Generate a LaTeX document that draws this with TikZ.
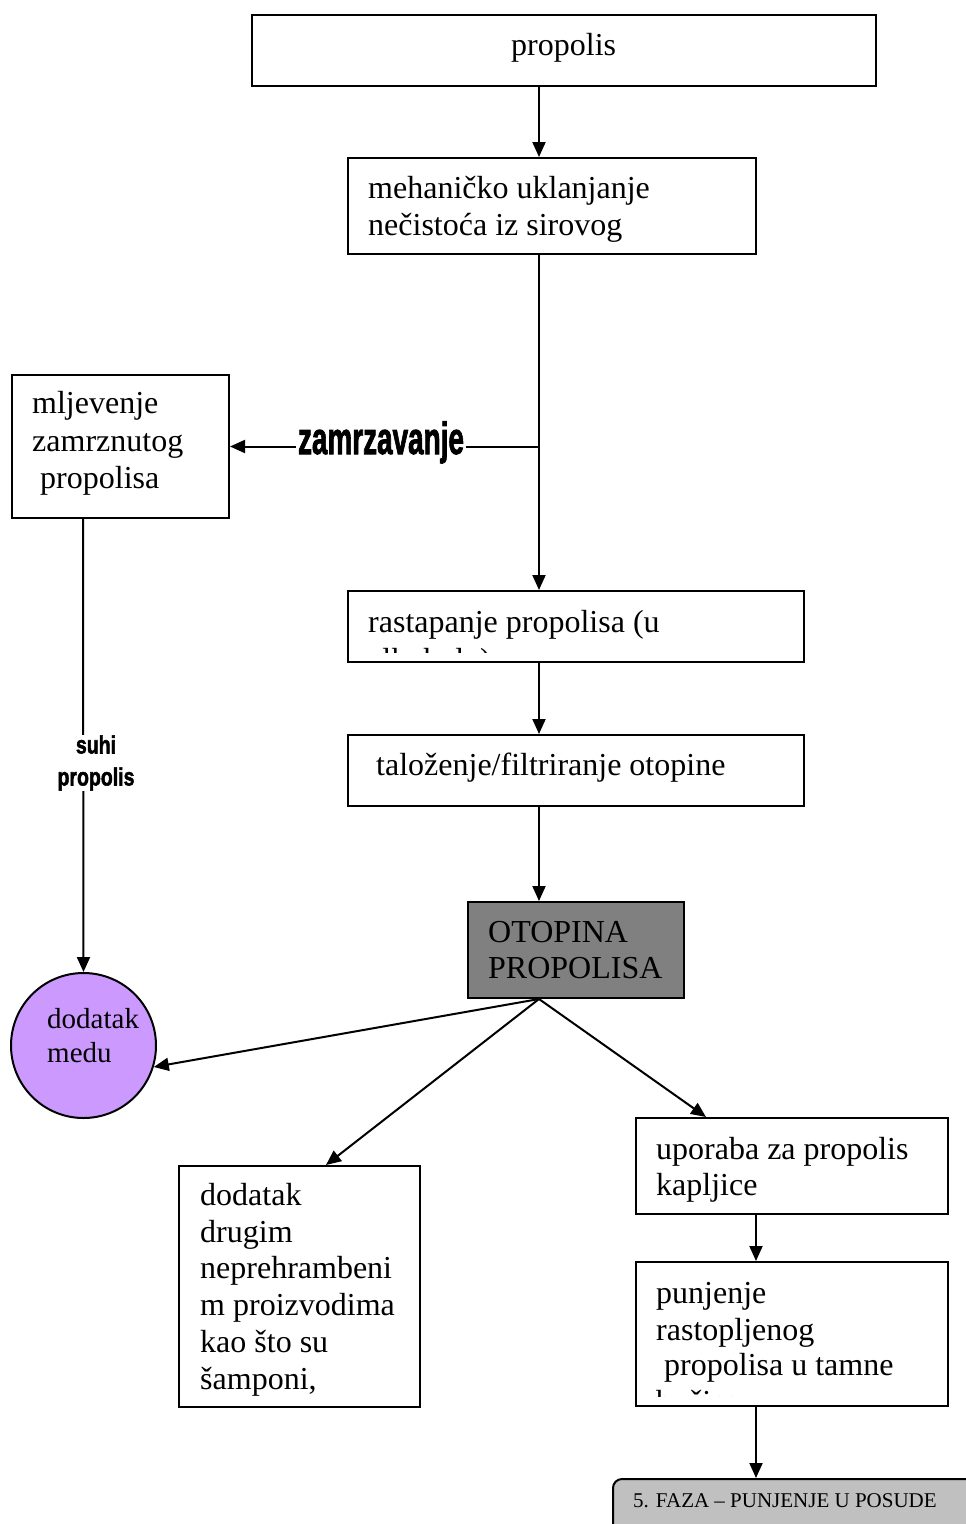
\documentclass[tikz,border=0pt]{standalone}
\usepackage{fontspec}
\setmainfont{Liberation Serif}
\newfontfamily\arialf{Liberation Sans}[BoldFeatures={FakeBold=2.2}]
\usetikzlibrary{arrows.meta}
\definecolor{lilac}{HTML}{CC99FF}
\definecolor{otgray}{HTML}{808080}
\definecolor{fazagray}{HTML}{C0C0C0}
\begin{document}
\begin{tikzpicture}[x=1pt,y=-1pt,
  box/.style={draw, line width=2pt, inner sep=0pt, anchor=north west},
  txt/.style={anchor=base west, inner sep=0pt, font=\fontsize{32}{36.8}\selectfont},
  ctxt/.style={anchor=base west, inner sep=0pt, font=\fontsize{29}{34}\selectfont},
  arr/.style={line width=2pt, -{Triangle[length=15pt,width=13pt]}},
  wordart/.style={fill=white, inner ysep=0pt, inner xsep=2pt}]
\clip (0,0) rectangle (966,1524);
\fill[white] (0,0) rectangle (966,1524);
% boxes
\node[box, minimum width=624pt, minimum height=71pt] (p) at (251,14) {};
\node[box, minimum width=408pt, minimum height=96pt] (m) at (347,157) {};
\node[box, minimum width=217pt, minimum height=143pt] (mj) at (11,374) {};
\node[box, minimum width=456pt, minimum height=71pt] (r) at (347,590) {};
\node[box, minimum width=456pt, minimum height=71pt] (t) at (347,734) {};
\node[box, fill=otgray, minimum width=216pt, minimum height=96pt] (ot) at (467,901) {};
\node[draw, circle, line width=2pt, fill=lilac, minimum size=145pt, inner sep=0pt] (c) at (83.5,1045.5) {};
\node[box, minimum width=241pt, minimum height=241pt] (dd) at (178,1165) {};
\node[box, minimum width=312pt, minimum height=96pt] (up) at (635,1117) {};
\node[box, minimum width=312pt, minimum height=144pt] (pu) at (635,1261) {};
\node[box, rounded corners=9pt, fill=fazagray, minimum width=400pt, minimum height=90pt] (fz) at (612,1478) {};
% texts
\node[txt] (pt) at (511,55) {propolis};
\node[txt] (m1) at (368,198) {mehaničko uklanjanje};
\node[txt] (m2) at (368,235) {nečistoća iz sirovog};
\node[txt] (j1) at (32,413) {mljevenje};
\node[txt] (j2) at (32,451) {zamrznutog};
\node[txt] (j3) at (40,488) {propolisa};
\begin{scope}
  \clip (349,592) rectangle (801,652);
  \node[txt] (r1) at (368,632) {rastapanje propolisa (u};
  \node[txt] (r2) at (368,670) {alkoholu)};
\end{scope}
\node[txt] (t1) at (376,775) {taloženje/filtriranje otopine};
\node[txt] (o1) at (488,942) {OTOPINA};
\node[txt] (o2) at (488,978) {PROPOLISA};
\node[ctxt] (c1) at (47,1028) {dodatak};
\node[ctxt] (c2) at (47,1062) {medu};
\node[txt] (d1) at (200,1205) {dodatak};
\node[txt] (d2) at (200,1242) {drugim};
\node[txt] (d3) at (200,1278) {neprehrambeni};
\node[txt] (d4) at (200,1315) {m proizvodima};
\node[txt] (d5) at (200,1352) {kao što su};
\node[txt] (d6) at (200,1389) {šamponi,};
\node[txt] (u1) at (656,1159) {uporaba za propolis};
\node[txt] (u2) at (656,1195) {kapljice};
\begin{scope}
  \clip (637,1263) rectangle (945,1396);
  \node[txt] (q1) at (656,1303) {punjenje};
  \node[txt] (q2) at (656,1340) {rastopljenog};
  \node[txt] (q3) at (664,1375) {propolisa u tamne};
  \node[txt] (q4) at (656,1412) {bočice};
\end{scope}
\node[anchor=base west, inner sep=0pt, font=\fontsize{21}{24}\selectfont] (f1) at (633,1507) {5. FAZA – PUNJENJE U POSUDE};
% connectors
\coordinate (sp) at (539,0);
\coordinate (lsp) at (83,0);
\coordinate (rsp) at (756,0);
\draw[arr] (p.south -| sp) -- (m.north -| sp);
\draw[arr] (m.south -| sp) -- (r.north -| sp);
\draw[arr] (sp |- mj.east) -- (mj.east);
\draw[arr] (r.south -| sp) -- (t.north -| sp);
\draw[arr] (t.south -| sp) -- (ot.north -| sp);
\draw[arr] (mj.south -| lsp) -- (c.north);
\draw[arr] (ot.south -| sp) -- (c.-17);
\draw[arr] (ot.south -| sp) -- ([xshift=26.5pt]dd.north);
\draw[arr] (ot.south -| sp) -- ([xshift=-86pt]up.north);
\draw[arr] (up.south -| rsp) -- (pu.north -| rsp);
\draw[arr] (pu.south -| rsp) -- (fz.north -| rsp);
% connector labels
\node[wordart, anchor=base, font=\arialf\bfseries\fontsize{45}{48}\selectfont] (zl) at (381,454) {\scalebox{0.62}[1]{zamrzavanje}};
\node[wordart, inner xsep=0pt, align=center, font=\arialf\bfseries\fontsize{25}{32}\selectfont] (sl) at (96,763) {\scalebox{0.78}[1]{suhi}\\\scalebox{0.78}[1]{propolis}};
\end{tikzpicture}
\end{document}
